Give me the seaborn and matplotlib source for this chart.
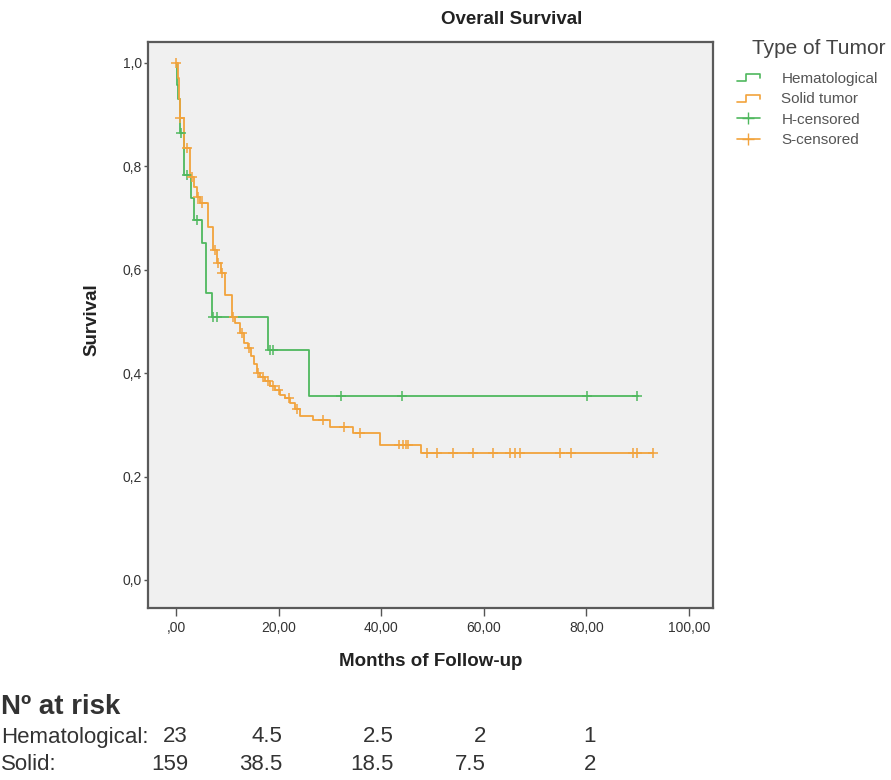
import numpy as np
import pandas as pd
import matplotlib
matplotlib.use('Agg')
import matplotlib.pyplot as plt
import seaborn as sns
from matplotlib.lines import Line2D
from matplotlib.legend_handler import HandlerBase

# %% Data ----
groups = ['Hematological', 'Solid tumor']

hem_times = [0, 0.2, 0.4, 0.8, 1.6, 3.0, 3.6, 5.0, 5.8, 7.0, 17.9, 26.0, 90.0]
hem_surv = [1.0, 0.957, 0.93, 0.865, 0.783, 0.739, 0.696, 0.652, 0.555, 0.509, 0.445, 0.356, 0.356]
hem_censored = [1.0, 2.1, 4.1, 7.2, 8.0, 18.3, 19.0, 32.2, 44.0, 80.1, 89.9]

solid_times = [0, 0.4, 0.6, 0.8, 1.6, 2.7, 3.6, 4.0, 4.7, 6.2, 7.2, 7.9, 8.7, 9.6, 10.9,
               11.5, 12.4, 13.3, 14.0, 14.7, 15.2, 15.7, 16.4, 17.3, 18.3, 19.3, 20.3,
               21.2, 22.2, 23.2, 24.1, 26.7, 30.0, 34.5, 39.8, 47.7, 93.0]
solid_surv = [1.0, 0.971, 0.93, 0.894, 0.836, 0.78, 0.76, 0.741, 0.729, 0.683, 0.638, 0.613,
              0.594, 0.551, 0.509, 0.497, 0.478, 0.459, 0.449, 0.433, 0.418, 0.40, 0.392,
              0.385, 0.375, 0.368, 0.358, 0.352, 0.342, 0.33, 0.317, 0.309, 0.296, 0.284,
              0.262, 0.246, 0.246]
solid_censored = [0.0, 0.8, 2.1, 3.1, 4.3, 5.1, 7.6, 8.2, 9.0, 11.2, 12.8, 14.2, 15.9, 17.0,
                  18.0, 19.0, 20.0, 22.0, 23.5, 28.6, 32.7, 35.9, 43.5, 44.2, 44.8, 45.3,
                  48.9, 50.9, 54.0, 57.9, 61.8, 65.1, 66.1, 67.1, 74.9, 77.0, 89.1, 89.9, 93.0]

x_ticks = [0, 20, 40, 60, 80, 100]
x_tick_labels = [',00', '20,00', '40,00', '60,00', '80,00', '100,00']
y_ticks = [0.0, 0.2, 0.4, 0.6, 0.8, 1.0]
y_tick_labels = ['0,0', '0,2', '0,4', '0,6', '0,8', '1,0']

risk_labels = ['Hematological:', 'Solid:']
risk_hem = ['23', '4.5', '2.5', '2', '1']
risk_solid = ['159', '38.5', '18.5', '7.5', '2']

colors = {'Hematological': '#4fb85e', 'Solid tumor': '#f2a33c'}


# %% Build frames ----
def censor_points(times, surv, cens):
    idx = np.searchsorted(times, cens, side='right') - 1
    return np.asarray(surv)[idx]

curves = pd.concat([
    pd.DataFrame({'time': hem_times, 'surv': hem_surv, 'group': groups[0]}),
    pd.DataFrame({'time': solid_times, 'surv': solid_surv, 'group': groups[1]}),
])
censors = pd.concat([
    pd.DataFrame({'time': hem_censored,
                  'surv': censor_points(hem_times, hem_surv, hem_censored),
                  'group': groups[0]}),
    pd.DataFrame({'time': solid_censored,
                  'surv': censor_points(solid_times, solid_surv, solid_censored),
                  'group': groups[1]}),
])


# %% Plot ----
sns.set_theme(style='white')
plt.rcParams['font.family'] = ['Liberation Sans', 'DejaVu Sans']

fig = plt.figure(figsize=(8.91, 7.80), dpi=100)
W, H = 891, 780
ax = fig.add_axes([148 / W, 1 - 608 / H, (713 - 148) / W, (608 - 42) / H])
ax.set_facecolor('#f0f0f0')

sns.lineplot(data=curves, x='time', y='surv', hue='group', palette=colors,
             drawstyle='steps-post', estimator=None, sort=False, legend=False,
             linewidth=1.3, ax=ax)
sns.scatterplot(data=censors, x='time', y='surv', hue='group', palette=colors,
                marker='+', s=50, linewidth=1.1, legend=False, ax=ax, zorder=3)

ax.set_xlim(-5.46, 104.7)
ax.set_ylim(-0.0542, 1.0406)
ax.set_xticks(x_ticks, x_tick_labels)
ax.set_yticks(y_ticks, y_tick_labels)
ax.tick_params(axis='x', direction='out', length=6, width=1, color='#555555',
               labelsize=10, labelcolor='#333333', pad=3, bottom=True)
ax.tick_params(axis='y', direction='out', length=3, width=1, color='#555555',
               labelsize=10, labelcolor='#333333', pad=1.5, left=True)
for sp in ax.spines.values():
    sp.set_color('#5a5a5a')
    sp.set_linewidth(1.6)

ax.set_xlabel('Months of Follow-up', fontsize=13.5, fontweight='bold', color='#222222')
ax.xaxis.set_label_coords(0.5, -0.094)
ax.xaxis.label.set_va('center')
ax.set_ylabel('Survival', fontsize=13.5, fontweight='bold', color='#222222')
ax.yaxis.set_label_coords(-0.099, 0.509)
ax.yaxis.label.set_va('center')

fig.text(512 / W, 1 - 19 / H, 'Overall Survival', ha='center', va='center',
         fontsize=13.5, fontweight='bold', color='#222222')


# legend with step glyphs like the original
class StepHandler(HandlerBase):
    def create_artists(self, legend, orig_handle, xdescent, ydescent, width, height,
                       fontsize, trans):
        x = np.array([0, 0.4, 0.4, 1.0, 1.0]) * width - xdescent
        y = np.array([0.15, 0.15, 0.8, 0.8, 0.45]) * height - ydescent
        line = Line2D(x, y, color=orig_handle.get_color(), lw=1.2)
        line.set_transform(trans)
        return [line]

step_h = Line2D([], [], color=colors[groups[0]])
step_s = Line2D([], [], color=colors[groups[1]])
cens_h = Line2D([], [], color=colors[groups[0]], marker='+', markersize=9, lw=1.2)
cens_s = Line2D([], [], color=colors[groups[1]], marker='+', markersize=9, lw=1.2)
leg = fig.legend([step_h, step_s, cens_h, cens_s],
                 ['Hematological', 'Solid tumor', 'H-censored', 'S-censored'],
                 handler_map={step_h: StepHandler(), step_s: StepHandler()},
                 loc='upper left', bbox_to_anchor=(737 / W, 1 - 72 / H),
                 frameon=False, fontsize=11, handlelength=1.5, handletextpad=1.4,
                 labelspacing=0.42, borderpad=0, borderaxespad=0)
for t in leg.get_texts():
    t.set_color('#555555')
fig.text(752 / W, 1 - 48 / H, 'Type of Tumor', ha='left', va='center',
         fontsize=15, color='#444444')


# number at risk table
fig.text(1 / W, 1 - 707 / H, 'Nº at risk', ha='left', va='center',
         fontsize=20, fontweight='bold', color='#333333')
risk_x = [188, 282, 394, 486, 596]
for row_y, label, vals in zip([737, 765], risk_labels, [risk_hem, risk_solid]):
    fig.text(1 / W, 1 - row_y / H, label, ha='left', va='center',
             fontsize=16, color='#333333')
    for xp, v in zip(risk_x, vals):
        fig.text(xp / W, 1 - row_y / H, v, ha='right', va='center',
                 fontsize=16, color='#333333')

fig.savefig('out.png', dpi=100)
